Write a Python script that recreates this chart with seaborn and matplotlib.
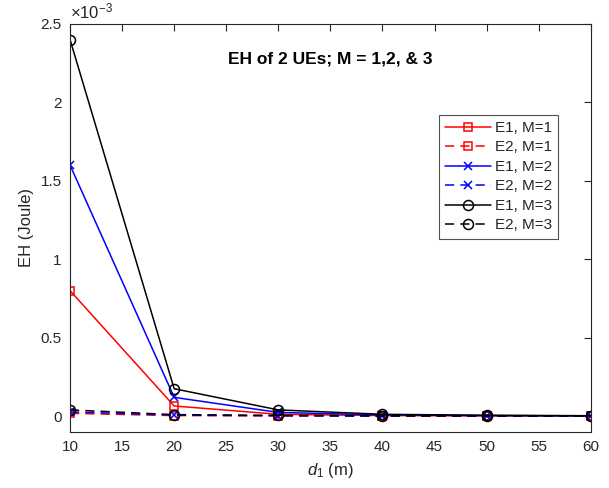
import matplotlib
matplotlib.use("Agg")
import matplotlib.pyplot as plt
import matplotlib.ticker as mticker
import seaborn as sns
import pandas as pd

# Distance of UE 1 (m)
d1 = [10, 20, 30, 40, 50, 60]

# Harvested energy (Joule)
e1_m1 = [0.80e-3, 0.065e-3, 0.012e-3, 0.004e-3, 0.002e-3, 0.001e-3]
e2_m1 = [0.018e-3, 0.004e-3, 0.002e-3, 0.001e-3, 0.0005e-3, 0.0003e-3]
e1_m2 = [1.60e-3, 0.12e-3, 0.024e-3, 0.008e-3, 0.004e-3, 0.002e-3]
e2_m2 = [0.027e-3, 0.007e-3, 0.003e-3, 0.0015e-3, 0.001e-3, 0.0005e-3]
e1_m3 = [2.40e-3, 0.175e-3, 0.040e-3, 0.012e-3, 0.006e-3, 0.003e-3]
e2_m3 = [0.040e-3, 0.010e-3, 0.005e-3, 0.002e-3, 0.0015e-3, 0.001e-3]

labels = ["E1, M=1", "E2, M=1", "E1, M=2", "E2, M=2", "E1, M=3", "E2, M=3"]
series = [e1_m1, e2_m1, e1_m2, e2_m2, e1_m3, e2_m3]
colors = ["#ff0000", "#ff0000", "#0000ff", "#0000ff", "#000000", "#000000"]
markers = ["s", "s", "x", "x", "o", "o"]
msizes = [5.2, 5.2, 5.5, 5.5, 7.2, 7.2]
styles = ["-", (0, (6, 4)), "-", (0, (6, 4)), "-", (0, (6, 4))]

sns.set_theme(style="white")
plt.rcParams["font.family"] = ["Liberation Sans", "DejaVu Sans"]
plt.rcParams["mathtext.fontset"] = "custom"
plt.rcParams["mathtext.it"] = "Liberation Sans:italic"
plt.rcParams["mathtext.rm"] = "Liberation Sans"

fig = plt.figure(figsize=(6.09, 4.88), dpi=100)
ax = fig.add_axes([0.115, 0.115, 0.855, 0.836])

for lab, vals, c, m, ms, ls in zip(labels, series, colors, markers, msizes, styles):
    df = pd.DataFrame({"d1": d1, "EH": vals})
    sns.lineplot(data=df, x="d1", y="EH", ax=ax, color=c, linestyle=ls,
                 marker=m, markersize=ms,
                 markerfacecolor="none", markeredgecolor=c,
                 markeredgewidth=1.1, linewidth=1.1, label=lab)

ax.set_xlim(10, 60)
ax.set_ylim(-0.1e-3, 2.5e-3)
ax.set_xticks(range(10, 61, 5))
ax.set_yticks([0, 0.5e-3, 1e-3, 1.5e-3, 2e-3, 2.5e-3])
ax.yaxis.set_major_formatter(mticker.FuncFormatter(lambda v, p: f"{v * 1e3:g}"))
ax.text(0.0, 1.005, r"$\times$10$^{-3}$", transform=ax.transAxes,
        ha="left", va="bottom", fontsize=12, color="#262626")

ax.tick_params(axis="both", which="both", direction="in", length=5,
               top=True, right=True, labelsize=11, colors="#262626",
               width=0.8, pad=6)
for s in ax.spines.values():
    s.set_color("#262626")
    s.set_linewidth(0.8)

ax.set_xlabel("$d_1$ (m)", fontsize=12, color="#262626", labelpad=5)
ax.set_ylabel("EH (Joule)", fontsize=12, color="#262626", labelpad=5)
ax.text(0.5, 0.913, "EH of 2 UEs; M = 1,2, & 3", transform=ax.transAxes,
        ha="center", va="center", fontsize=12.5, fontweight="bold",
        color="black")

handles = [ln for ln in ax.get_lines() if ln.get_label() in labels]
leg = ax.legend(handles=handles, labels=labels, loc="upper left",
                bbox_to_anchor=(0.708, 0.777),
                fontsize=11, frameon=True, fancybox=False, numpoints=1,
                edgecolor="#262626", handlelength=3.0, borderpad=0.4,
                labelspacing=0.36, handletextpad=0.3, borderaxespad=0)
leg.get_frame().set_linewidth(0.8)

fig.savefig("out.png", dpi=100)
